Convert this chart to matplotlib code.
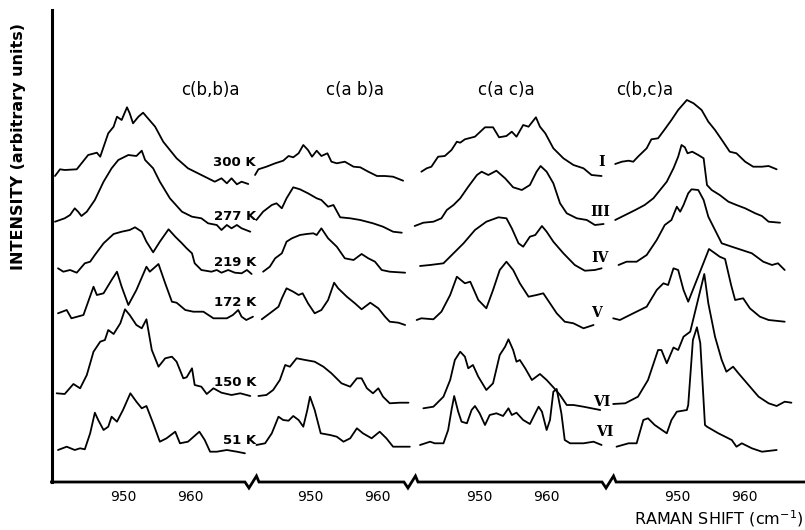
import matplotlib
matplotlib.use("Agg")
import matplotlib.pyplot as plt

# ------------------------------------------------------------------ data
geometries = ["c(b,b)a", "c(a b)a", "c(a c)a", "c(b,c)a"]
temperatures = ["300 K", "277 K", "219 K", "172 K", "150 K", "51 K"]
phases = ["I", "III", "IV", "V", "VI", "VI"]
tick_values = [950, 960]

# c(b,b)a
bb_300_w = [939.85, 940.6, 941.3, 943.1, 944.8, 946.1, 946.6, 947.8, 948.6, 949.1, 949.8, 950.6, 951.0, 951.5,
            952.3, 953.0, 954.8, 956.0, 958.0, 959.7, 961.7, 963.7, 964.7, 965.5, 966.2, 967.0, 967.7, 968.7]
bb_300_i = [6, 12.7, 12, 12.7, 27, 29.3, 25.3, 48.7, 55.3, 65.3, 62, 74.7, 68.7, 58.7,
            65.3, 69.3, 55.3, 40.3, 23.7, 13.7, 7, 0.3, 3.7, -1.3, 3.7, -2.3, 0.3, -2]
bb_277_w = [939.85, 941.3, 942.1, 942.8, 943.3, 943.8, 944.6, 945.8, 947.1, 948.3, 949.3, 950.8, 952.0, 952.8,
            953.3, 954.5, 955.5, 957.0, 958.8, 960.3, 961.7, 962.7, 964.0, 964.7, 965.5, 966.2, 967.0, 967.7, 969.0]
bb_277_i = [3.3, 6.7, 10, 16.7, 13.3, 9, 13.3, 25, 43.3, 56.7, 65, 70, 69, 74.3,
            65, 56.7, 43.3, 26.7, 13.3, 8.3, 6.7, 1.7, 0, -5, 0, -3.3, 0, -3.3, -6.7]
bb_219_w = [940.3, 941.1, 942.1, 943.1, 944.3, 945.1, 945.8, 947.1, 948.6, 949.8, 951.0, 951.8, 952.8, 953.5,
            954.5, 955.5, 956.8, 957.8, 958.8, 959.5, 960.3, 960.7, 961.7, 963.2, 964.0, 964.7, 965.7, 966.7,
            967.7, 968.5, 969.2]
bb_219_i = [1.7, -1.7, 0, -2.7, 6.7, 8.3, 15, 26.7, 36, 38.3, 40, 42.7, 38.3, 28.3,
            17.7, 28.3, 40.7, 33.3, 26.7, 21.7, 16.7, 6.7, 0, -1.7, 0, -2.7, 0, -2.7, -3.3, 0, -4]
bb_172_w = [940.3, 941.6, 942.3, 944.1, 945.6, 946.1, 947.1, 948.3, 949.1, 949.8, 950.8, 952.0, 953.5, 954.0,
            955.3, 956.3, 957.3, 958.0, 959.3, 960.5, 962.0, 963.5, 965.5, 966.4, 967.2, 967.7, 968.4, 969.4]
bb_172_i = [1.7, 5, -3.3, 0, 28.3, 20, 21.7, 35, 43.3, 28.3, 10, 25, 48.3, 43.3,
            51, 31.7, 13.3, 12.3, 5, 3.3, 3.3, -3.3, -3.3, 0, 5, -1.7, -5, -1.7]
bb_150_w = [940.1, 941.3, 942.6, 943.6, 944.6, 945.6, 946.6, 947.3, 947.8, 948.6, 949.6, 950.3, 951.0, 952.0,
            952.8, 953.5, 954.3, 955.3, 956.3, 957.3, 958.0, 959.0, 959.5, 960.3, 960.7, 961.7, 962.5, 963.5,
            964.7, 966.2, 967.5, 969.0]
bb_150_i = [1.7, 1, 11, 6.7, 20, 43.3, 53.3, 55, 65, 61, 71.7, 85.7, 80, 70,
            66.7, 75.7, 45, 28.3, 36.7, 38.3, 33.3, 16.7, 17.7, 26.7, 10, 8.3, 1, 6.7, 2.3, 0, 1.7, -1]
bb_51_w = [940.3, 941.6, 942.8, 943.6, 944.3, 945.1, 945.8, 946.3, 947.1, 947.8, 948.3, 949.1, 950.0, 951.1,
           952.0, 952.8, 953.5, 954.5, 955.5, 956.5, 957.8, 958.5, 959.7, 961.4, 962.2, 963.0, 964.0, 965.5,
           967.0, 968.2]
bb_51_i = [2, 5.3, 2, 3.7, 2.7, 18.7, 39.3, 32, 22, 25.3, 35.3, 30.3, 42, 58.7,
           50.3, 43.7, 46, 28.7, 10.3, 13.7, 20.3, 8.7, 10.3, 20.3, 12, 0.3, 0.3, 2, 0.3, -1.3]

# c(a b)a
ab_300_w = [941.8, 942.3, 943.5, 944.8, 946.0, 946.8, 947.5, 948.3, 949.0, 949.7, 950.3, 951.0, 951.7, 952.6,
            953.2, 954.0, 955.2, 956.5, 957.5, 958.7, 960.0, 961.2, 962.4, 963.9]
ab_300_i = [7, 12.7, 15.3, 18.7, 21.3, 26, 24.7, 28.7, 37, 32, 25.3, 31.3, 26, 28.7,
            20.3, 18.7, 20.3, 15.3, 14.7, 10.3, 6, 6, 5.3, 1.3]
ab_277_w = [942.0, 943.0, 944.3, 945.0, 945.8, 946.5, 947.5, 948.5, 949.7, 951.0, 951.7, 952.7, 953.5, 954.5,
            956.0, 957.5, 959.4, 960.9, 962.4, 963.7]
ab_277_i = [5, 13.3, 20, 21.7, 16.7, 26.7, 37.7, 35.7, 31.7, 26.7, 25, 18.3, 20, 7.7,
            6.7, 5, 1.7, -1.7, -6.7, -7.7]
ab_219_w = [943.0, 944.0, 944.8, 945.8, 946.5, 947.3, 948.5, 949.5, 950.5, 951.0, 951.7, 952.7, 954.0, 955.2,
            956.5, 957.7, 958.7, 959.7, 960.7, 961.9, 964.2]
ab_219_i = [-1.7, 3.3, 11.7, 16.7, 28.3, 31.7, 35, 36, 36.7, 35, 41.7, 31.7, 23.3, 11.7,
            10, 16, 11.7, 8.3, 0, -1.7, -2.7]
ab_172_w = [942.8, 944.0, 945.3, 945.8, 946.5, 947.5, 948.3, 948.9, 949.7, 950.7, 951.7, 952.7, 953.6, 954.2,
            955.5, 956.7, 957.7, 959.0, 960.2, 961.2, 961.9, 963.2, 964.2]
ab_172_i = [-4.3, 1.7, 8.3, 16.7, 26.7, 23.3, 20, 21.7, 11.7, 1.7, 5, 15, 32.3, 26.7,
            18.3, 11.7, 5.7, 12.3, 6.7, -1.7, -6.7, -7.7, -10]
ab_150_w = [942.3, 943.5, 944.5, 945.5, 946.3, 947.0, 948.0, 949.3, 950.7, 952.0, 953.2, 954.7, 956.0, 957.0,
            957.7, 958.5, 959.4, 960.2, 960.9, 961.9, 963.4, 964.7]
ab_150_i = [-1, 0, 5, 15, 30, 28.3, 36.7, 35, 33.3, 28.3, 21.7, 11.7, 8.3, 16.7,
            16.7, 6.7, 1.7, 6.7, -1.7, -8.3, -7.7, -7.7]
ab_51_w = [942.0, 943.3, 944.3, 945.3, 946.0, 946.8, 947.5, 948.3, 949.0, 949.6, 950.0, 950.7, 951.6, 953.0,
           954.0, 955.0, 956.0, 957.0, 957.9, 959.2, 960.4, 961.4, 962.4, 963.9, 964.9]
ab_51_i = [7, 8.7, 18.7, 35.3, 32, 31.3, 36, 32, 25.3, 42, 55.3, 42, 18.7, 17,
           15.3, 10.3, 13.7, 23.7, 18.7, 13.7, 20.3, 13.7, 5.3, 5.3, 5.3]

# c(a c)a
ac_I_w = [941.4, 942.2, 942.9, 943.9, 944.9, 945.9, 946.7, 947.2, 947.9, 949.4, 950.9, 952.1, 953.0, 954.1,
          954.9, 955.6, 956.6, 957.4, 958.5, 959.1, 959.9, 961.1, 962.6, 964.1, 965.6, 966.8, 968.3]
ac_I_i = [10.3, 13.7, 15.3, 25.3, 26, 32, 40.3, 39.3, 42.7, 45.3, 54.7, 54.7, 44.7, 46,
          50.3, 45.3, 57, 55.3, 64.7, 55.3, 48.7, 33.7, 23.7, 17, 13.7, 7, 6]
ac_III_w = [940.4, 941.7, 943.2, 944.4, 945.2, 946.2, 947.2, 948.4, 949.7, 950.4, 951.4, 952.6, 953.9, 955.1,
            956.4, 957.6, 958.6, 959.2, 960.1, 961.1, 962.1, 963.1, 964.6, 966.1, 967.3, 968.6]
ac_III_i = [-1, 2.3, 3.3, 6.7, 15, 20, 26.7, 38.3, 50, 53.3, 50, 54.3, 46.7, 37.7,
            35, 40, 53.3, 59, 53.3, 41.7, 21.7, 11.7, 6.7, 5, 0, 1]
ac_IV_w = [941.2, 942.7, 944.7, 946.2, 947.7, 949.4, 951.1, 952.9, 954.1, 954.9, 955.9, 956.6, 957.6, 958.4,
           959.4, 960.1, 961.1, 962.6, 964.3, 965.8, 967.3, 968.3]
ac_IV_i = [4, 5, 6.7, 16.7, 26.7, 40, 48.3, 52.7, 51.7, 41.7, 26.7, 23.3, 33.3, 35,
           44, 38.3, 28.3, 16.7, 5, -0.7, 0, 1.7]
ac_V_w = [940.7, 941.4, 943.2, 944.4, 945.7, 946.7, 947.9, 948.7, 949.9, 951.1, 952.1, 953.1, 954.1, 955.1,
          956.1, 957.4, 958.6, 959.6, 960.6, 961.6, 962.8, 964.1, 965.6, 967.1]
ac_V_i = [-5, -3.3, -4.3, 3.3, 20, 38.3, 31.7, 33.3, 15, 6.7, 25, 45, 53.3, 45,
          31.7, 18.3, 20, 21.7, 11.7, 1.7, -6.7, -8.3, -13.3, -10]
ac_VIa_w = [941.7, 943.2, 944.7, 945.7, 946.4, 947.2, 947.9, 948.4, 949.1, 949.9, 951.1, 952.1, 953.1, 953.9,
            954.4, 955.1, 955.6, 956.1, 956.9, 957.9, 959.1, 960.1, 961.1, 962.1, 963.1, 964.1, 965.6, 968.1]
ac_VIa_i = [-13.3, -11.7, -1.7, 15, 35, 43.3, 38.3, 26.7, 30, 18.3, 5, 11.7, 40, 48.3,
            55.7, 45, 33.3, 35, 26.7, 15, 21, 15, 7.7, 0, -10, -10, -11.7, -15]
ac_VIb_w = [941.2, 942.7, 943.4, 944.7, 945.4, 945.9, 946.3, 946.9, 947.4, 948.2, 948.9, 949.4, 950.1, 950.9,
            951.6, 952.6, 953.6, 954.4, 954.9, 955.6, 956.6, 957.6, 958.4, 958.9, 959.4, 960.1, 960.6, 961.1,
            961.6, 962.3, 962.8, 963.6, 965.6, 967.1, 968.3]
ac_VIb_i = [7, 10.3, 8.7, 8.7, 22, 42, 56, 40.3, 30.3, 28.7, 42, 46, 38.7, 27,
            37, 38.7, 36, 43.7, 37, 39.3, 32, 28, 38.7, 45.3, 40.3, 22, 32, 60.3,
            63, 38.7, 12, 8.7, 8.7, 10.3, 7]

# c(b,c)a
bc_I_w = [940.7, 941.7, 942.7, 943.4, 944.1, 945.4, 946.1, 947.1, 948.1, 949.1, 950.1, 951.4, 952.4, 953.6,
          954.6, 955.6, 956.8, 957.8, 958.8, 960.1, 961.3, 962.6, 963.6, 964.8]
bc_I_i = [18, 20.3, 21.3, 20.3, 25.3, 33.7, 42.7, 43.7, 52.7, 62, 72, 82, 78.7, 72,
          60.3, 52, 40.3, 30.3, 28.7, 20.3, 15.3, 15.3, 16, 12.7]
bc_III_w = [940.7, 942.2, 943.7, 945.1, 946.4, 947.4, 948.4, 949.4, 950.1, 950.6, 951.1, 951.5, 952.2, 953.1,
            953.9, 954.4, 955.1, 956.3, 957.6, 958.8, 960.1, 961.6, 962.6, 963.6, 965.3]
bc_III_i = [5, 10, 15, 20, 26.7, 35, 43.3, 56.7, 68.3, 80, 77.7, 71.7, 73.3, 70,
            66.7, 40, 35, 30, 23.3, 20, 16.7, 11.7, 9, 3.3, 2.3]
bc_IV_w = [941.2, 942.4, 943.9, 945.4, 946.9, 948.1, 949.1, 949.9, 950.4, 950.9, 951.6, 952.1, 953.1, 953.9,
           954.6, 955.6, 956.6, 958.1, 959.6, 961.1, 962.8, 964.1, 965.0, 966.0]
bc_IV_i = [5, 8.3, 8.3, 15, 30, 45, 50, 63.3, 58.3, 65, 76.7, 80.7, 80, 70,
           53.3, 40, 26.7, 23.3, 20, 16.7, 8.3, 5, 6.7, 0]
bc_V_w = [940.4, 941.4, 943.4, 945.4, 946.9, 947.9, 948.6, 949.4, 950.1, 950.9, 951.6, 954.7, 955.6, 956.3,
          957.1, 958.0, 958.6, 959.8, 960.8, 962.3, 963.6, 966.0]
bc_V_i = [-3.3, -5, 1.7, 8.3, 25, 31.7, 30, 46.7, 45, 25, 13.3, 66, 61.7, 58.3,
          56, 30, 15, 16.7, 6.7, -1.7, -5, -6.7]
bc_VIa_w = [940.4, 942.2, 944.1, 945.6, 947.1, 947.6, 948.4, 949.4, 950.1, 950.9, 951.9, 954.0, 954.6, 955.6,
            956.6, 957.3, 958.3, 959.1, 960.6, 962.1, 963.6, 964.8, 966.0, 967.0]
bc_VIa_i = [-9, -8.3, -1.7, 15, 45, 45, 31.7, 47.5, 45, 58.3, 63.3, 121, 91.7, 58.3,
            35, 23.3, 28.3, 21.7, 10, -1.7, -8.3, -11, -6.7, -7.7]
bc_VIb_w = [940.9, 942.7, 943.9, 944.9, 945.6, 946.6, 948.4, 949.1, 949.9, 951.4, 951.6, 952.3, 952.9, 953.4,
            954.1, 954.4, 956.1, 958.1, 958.8, 959.6, 961.1, 962.6, 964.8]
bc_VIb_i = [5.3, 8.7, 8.7, 32, 33.7, 27, 18.7, 32, 40.3, 42, 47, 112, 124.7, 109,
            27, 25.3, 18.7, 12, 5.3, 8.7, 3.7, 0.3, 2]

panels = [
    [(bb_300_w, bb_300_i), (bb_277_w, bb_277_i), (bb_219_w, bb_219_i),
     (bb_172_w, bb_172_i), (bb_150_w, bb_150_i), (bb_51_w, bb_51_i)],
    [(ab_300_w, ab_300_i), (ab_277_w, ab_277_i), (ab_219_w, ab_219_i),
     (ab_172_w, ab_172_i), (ab_150_w, ab_150_i), (ab_51_w, ab_51_i)],
    [(ac_I_w, ac_I_i), (ac_III_w, ac_III_i), (ac_IV_w, ac_IV_i),
     (ac_V_w, ac_V_i), (ac_VIa_w, ac_VIa_i), (ac_VIb_w, ac_VIb_i)],
    [(bc_I_w, bc_I_i), (bc_III_w, bc_III_i), (bc_IV_w, bc_IV_i),
     (bc_V_w, bc_V_i), (bc_VIa_w, bc_VIa_i), (bc_VIb_w, bc_VIb_i)],
]

# ------------------------------------------------------------------ layout
PX = 6.7                                   # pixels per cm-1 on the page
panel_shift = [0.0, 27.91, 53.13, 82.76]   # horizontal shift of each panel
row_offset = [300, 257, 212, 167, 87, 30]  # vertical stacking offsets
x_left, x_right = 939.33, 1051.79
breaks = [969.40, 993.13, 1022.69]
title_pos = [962.99, 956.72, 954.03, 945.15]   # wavenumber within panel
title_y = 392
temp_x = 969.85
temp_y = [319, 266, 220, 179, 99, 41]
phase_x = [1021.5, 1021.2, 1021.2, 1020.7, 1021.5, 1021.9]
phase_y = [320, 270, 224, 169, 80, 50]

fig = plt.figure(figsize=(8.05, 5.3), dpi=100)
ax = fig.add_axes([51.5 / 805, 48 / 530, (805 - 51.5) / 805, 472 / 530])
ax.set_xlim(x_left, x_right)
ax.set_ylim(0, 472)

for p, spectra in enumerate(panels):
    for r, (w, inten) in enumerate(spectra):
        ax.plot([x + panel_shift[p] for x in w], [v + row_offset[r] for v in inten],
                color="black", lw=1.3, solid_joinstyle="round", solid_capstyle="round")

# titles
for p, g in enumerate(geometries):
    ax.text(title_pos[p] + panel_shift[p], title_y, g, ha="center", va="center",
            fontsize=12, color="black")

# temperatures
for r, t in enumerate(temperatures):
    ax.text(temp_x, temp_y[r], t, ha="right", va="center", fontsize=9.5,
            fontweight="bold", color="black")

# phases
for r, ph in enumerate(phases):
    ax.text(phase_x[r], phase_y[r], ph, ha="center", va="center", fontsize=10,
            fontweight="bold", family="DejaVu Serif", color="black")

# axes
for s in ["top", "right", "bottom"]:
    ax.spines[s].set_visible(False)
ax.spines["left"].set_linewidth(2.2)
ax.set_yticks([])
ax.set_xticks([t + s for s in panel_shift for t in tick_values])
ax.set_xticklabels([str(t) for s in panel_shift for t in tick_values])
ax.tick_params(axis="x", length=0, pad=6, labelsize=10)

bx, by = [x_left], [0]
for c in breaks:
    bx += [c - 8 / PX, c - 4 / PX, c + 3.5 / PX, c + 6 / PX]
    by += [0, -6, 6, 0]
bx.append(x_right)
by.append(0)
ax.plot(bx, by, color="black", lw=2, clip_on=False, solid_joinstyle="miter")

fig.text(19 / 805, (530 - 147) / 530, "INTENSITY (arbitrary units)", rotation=90,
         ha="center", va="center", fontsize=11.5, fontweight="bold")
fig.text(803 / 805, (530 - 519) / 530, "RAMAN SHIFT (cm$^{-1}$)", ha="right",
         va="center", fontsize=11.5)

fig.savefig("out.png", dpi=100)
